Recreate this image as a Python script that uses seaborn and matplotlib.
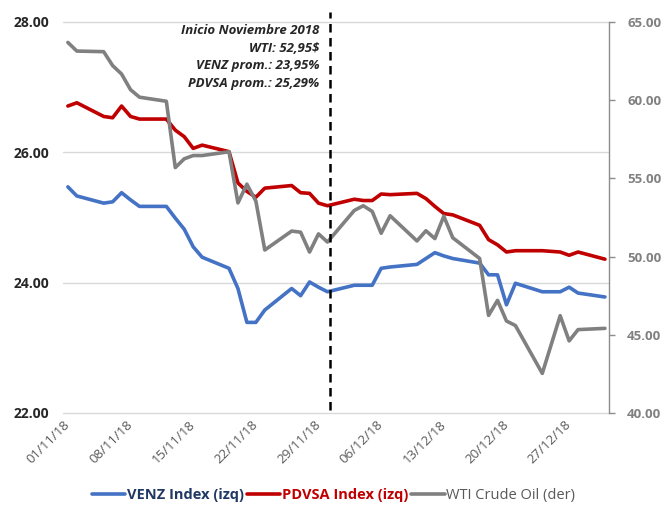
import pandas as pd
import numpy as np
import seaborn as sns
import matplotlib.pyplot as plt
import matplotlib.dates as mdates
from matplotlib.ticker import FormatStrFormatter

dates = ["2018-11-01", "2018-11-02", "2018-11-05", "2018-11-06", "2018-11-07", "2018-11-08",
         "2018-11-09", "2018-11-12", "2018-11-13", "2018-11-14", "2018-11-15", "2018-11-16",
         "2018-11-19", "2018-11-20", "2018-11-21", "2018-11-22", "2018-11-23", "2018-11-26",
         "2018-11-27", "2018-11-28", "2018-11-29", "2018-11-30", "2018-12-03", "2018-12-04",
         "2018-12-05", "2018-12-06", "2018-12-07", "2018-12-10", "2018-12-11", "2018-12-12",
         "2018-12-13", "2018-12-14", "2018-12-17", "2018-12-18", "2018-12-19", "2018-12-20",
         "2018-12-21", "2018-12-24", "2018-12-26", "2018-12-27", "2018-12-28", "2018-12-31"]

venz = [25.47, 25.33, 25.22, 25.24, 25.38, 25.27, 25.17, 25.17, 24.99, 24.82, 24.55, 24.39,
        24.22, 23.91, 23.39, 23.39, 23.58, 23.91, 23.80, 24.01, 23.93, 23.86, 23.96, 23.96,
        23.96, 24.22, 24.24, 24.28, 24.37, 24.46, 24.41, 24.37, 24.30, 24.12, 24.12, 23.66,
        23.99, 23.86, 23.86, 23.93, 23.84, 23.78]

pdvsa = [26.71, 26.76, 26.55, 26.53, 26.71, 26.55, 26.51, 26.51, 26.34, 26.24, 26.06, 26.11,
         26.01, 25.53, 25.40, 25.31, 25.45, 25.49, 25.38, 25.37, 25.22, 25.18, 25.28, 25.26,
         25.26, 25.36, 25.35, 25.37, 25.29, 25.17, 25.06, 25.04, 24.88, 24.66, 24.58, 24.47,
         24.49, 24.49, 24.47, 24.42, 24.47, 24.36]

wti = [63.69, 63.14, 63.10, 62.21, 61.67, 60.67, 60.19, 59.93, 55.69, 56.25, 56.46, 56.46,
       56.70, 53.43, 54.63, 53.55, 50.42, 51.63, 51.56, 50.29, 51.45, 50.93, 52.95, 53.25,
       52.89, 51.49, 52.61, 51.00, 51.65, 51.15, 52.58, 51.20, 49.88, 46.24, 47.20, 45.88,
       45.59, 42.53, 46.22, 44.61, 45.33, 45.41]

tick_dates = pd.date_range("2018-11-01", "2018-12-27", freq="7D")
marker_date = pd.Timestamp("2018-11-30 08:00")
note_lines = ["Inicio Noviembre 2018", "WTI: 52,95$", "VENZ prom.: 23,95%", "PDVSA prom.: 25,29%"]

df = pd.DataFrame({"fecha": pd.to_datetime(dates), "venz": venz, "pdvsa": pdvsa, "wti": wti})

sns.set_style("white")
plt.rcParams["font.family"] = ["Open Sans", "DejaVu Sans"]

fig = plt.figure(figsize=(6.67, 5.12), dpi=100)
ax = fig.add_axes([0.0945, 0.1934, 0.8186, 0.7637])
ax2 = ax.twinx()

sns.lineplot(data=df, x="fecha", y="venz", ax=ax, color="#4472c4", lw=2.6, label="VENZ Index (izq)")
sns.lineplot(data=df, x="fecha", y="pdvsa", ax=ax, color="#c00000", lw=2.6, label="PDVSA Index (izq)")
sns.lineplot(data=df, x="fecha", y="wti", ax=ax2, color="#808080", lw=2.6, label="WTI Crude Oil (der)")

handles = ax.get_lines()[:2] + ax2.get_lines()[:1]
for a in (ax, ax2):
    if a.get_legend():
        a.get_legend().remove()

# ejes
ax.set_xlim(pd.Timestamp("2018-11-01") - pd.Timedelta(hours=13), pd.Timestamp("2018-12-31") + pd.Timedelta(hours=11))
ax.set_ylim(22, 28)
ax.set_yticks([22, 24, 26, 28])
ax.yaxis.set_major_formatter(FormatStrFormatter("%.2f"))
ax2.set_ylim(40, 65)
ax2.set_yticks([40, 45, 50, 55, 60, 65])
ax2.yaxis.set_major_formatter(FormatStrFormatter("%.2f"))

ax.set_xticks(tick_dates)
ax.xaxis.set_major_formatter(mdates.DateFormatter("%d/%m/%y"))
ax.set_xlabel("")
ax.set_ylabel("")
ax2.set_ylabel("")

ax.grid(axis="y", color="#d9d9d9", lw=1)
ax.grid(axis="x", visible=False)
ax2.grid(False)
for gl in ax.yaxis.get_gridlines():
    gl.set_clip_on(False)

for a in (ax, ax2):
    for s in ["top", "left", "bottom"]:
        a.spines[s].set_visible(False)
ax.spines["right"].set_visible(False)
ax2.spines["right"].set_color("#8c8c8c")
ax2.spines["right"].set_linewidth(1)

ax.tick_params(axis="y", length=0, pad=10, labelsize=10, labelcolor="#262626")
ax.tick_params(axis="x", length=0, pad=7, labelsize=9.5, labelcolor="#595959")
ax2.tick_params(axis="y", length=4, width=1, color="#8c8c8c", direction="out", pad=9,
                labelsize=9.5, labelcolor="#808080")
for t in ax.get_yticklabels() + ax2.get_yticklabels():
    t.set_fontweight("bold")
plt.setp(ax.get_xticklabels(), rotation=45, ha="right", va="center", rotation_mode="anchor")

# linea vertical y nota
ax2.axvline(marker_date, ymin=0.008, ymax=1.026, color="black", lw=1.8,
            linestyle=(0, (3.4, 2.2)), clip_on=False, zorder=5)
note_x = marker_date - pd.Timedelta(days=1.2)
for k, line in enumerate(note_lines):
    ax2.text(note_x, 0.977 - k * 0.0445, line, transform=ax2.get_xaxis_transform(),
             ha="right", va="center", fontsize=9.5, fontweight="bold", fontstyle="italic",
             color="#262626")

leg = fig.legend(handles, ["VENZ Index (izq)", "PDVSA Index (izq)", "WTI Crude Oil (der)"],
                 loc="center", bbox_to_anchor=(0.5, 1 - 496 / 512), ncol=3, frameon=False,
                 handlelength=2.3, handletextpad=0.1, columnspacing=0.2, fontsize=10.5)
leg_colors = ["#1f3864", "#c00000", "#595959"]
leg_weights = ["bold", "bold", "normal"]
for txt, c, w in zip(leg.get_texts(), leg_colors, leg_weights):
    txt.set_color(c)
    txt.set_fontweight(w)

plt.savefig("out.png", dpi=100)
